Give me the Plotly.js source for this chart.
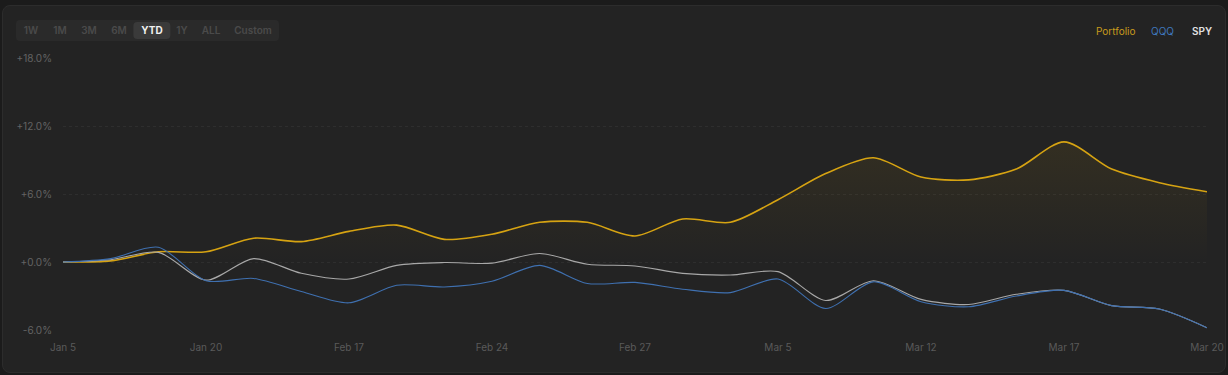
<!DOCTYPE html>
<html><head><meta charset="utf-8">
<script src="https://cdn.plot.ly/plotly-3.0.1.min.js"></script>
<style>
html,body{margin:0;padding:0;background:#1b1b1b;width:1228px;height:375px;overflow:hidden;font-family:Inter,"Noto Sans",sans-serif;}
#card{position:absolute;left:2px;top:5px;width:1222px;height:366px;background:#232323;border:1px solid #2c2c2c;border-radius:8px;}
#chart{position:absolute;left:0;top:0;width:1228px;height:375px;}
#btns{position:absolute;left:16px;top:20px;width:263px;height:21px;background:#2a2a2a;border-radius:4px;}
.b{position:absolute;top:0;height:21px;line-height:21px;font-size:10px;font-weight:600;color:#4a4a4a;transform:translateX(-50%);white-space:nowrap;}
.b.sel{background:#3a3a3a;color:#f0f0f0;font-weight:700;border-radius:4px;top:2px;height:17px;line-height:17px;padding:0 8px;}
.lg{position:absolute;top:25px;font-size:10px;line-height:12px;white-space:nowrap;}
</style></head>
<body>
<div id="card"></div>
<div id="chart"></div>
<div id="btns"></div>
<div id="legend"></div>
<script>
const xIndex = [0,1,2,3,4,5,6,7,8,9,10,11,12,13,14,15,16,17,18,19,20,21,22,23,24];
const tickIdx = [0,3,6,9,12,15,18,21,24];
const tickLabels = ["Jan 5","Jan 20","Feb 17","Feb 24","Feb 27","Mar 5","Mar 12","Mar 17","Mar 20"];
const portfolio = [0,0.1,0.9,0.9,2.1,1.8,2.7,3.25,2.0,2.45,3.5,3.5,2.3,3.8,3.5,5.5,7.8,9.2,7.5,7.25,8.2,10.6,8.2,7.0,6.2];
const qqq = [0,0.3,1.3,-1.65,-1.45,-2.6,-3.6,-2.05,-2.2,-1.7,-0.3,-1.9,-1.8,-2.4,-2.7,-1.5,-4.1,-1.75,-3.5,-3.95,-3.0,-2.5,-3.85,-4.15,-5.8];
const spy = [0,0.2,0.85,-1.6,0.3,-1.0,-1.5,-0.3,-0.05,-0.1,0.75,-0.2,-0.35,-1.0,-1.15,-0.85,-3.4,-1.65,-3.3,-3.75,-2.85,-2.5,-3.85,-4.15,-5.8];
const yTicks = [-6,0,6,12,18];
const yTickText = ["-6.0%","+0.0%","+6.0%","+12.0%","+18.0%"];
const ranges = ["1W","1M","3M","6M","YTD","1Y","ALL","Custom"];
const rangeX = [15,44,73,103,136,166,195,237];
const legendNames = ["Portfolio","QQQ","SPY"];
const legendColors = ["#c89a1c","#3f77bd","#e0e0e0"];
const legendX = [1096,1151,1192];

const btns = document.getElementById('btns');
ranges.forEach((r,i)=>{
  const d=document.createElement('div');
  d.className='b'+(r==='YTD'?' sel':'');
  d.style.left=rangeX[i]+'px';
  d.textContent=r;
  btns.appendChild(d);
});
const lg=document.getElementById('legend');
legendNames.forEach((n,i)=>{
  const d=document.createElement('div');
  d.className='lg';
  d.style.left=legendX[i]+'px';
  d.style.color=legendColors[i];
  if(n==='SPY') d.style.fontWeight='600';
  d.textContent=n;
  lg.appendChild(d);
});

const traces=[
 {x:xIndex,y:portfolio,type:'scatter',mode:'lines',name:'Portfolio',
  line:{color:'#d6a312',width:1.6,shape:'spline',smoothing:0.8},
  fill:'tozeroy',
  fillgradient:{type:'vertical',colorscale:[[0,'rgba(214,163,18,0)'],[1,'rgba(214,163,18,0.09)']]},
  hoverinfo:'skip'},
 {x:xIndex,y:spy,type:'scatter',mode:'lines',name:'SPY',
  line:{color:'#a8a8a8',width:1.1,shape:'spline',smoothing:0.8},hoverinfo:'skip'},
 {x:xIndex,y:qqq,type:'scatter',mode:'lines',name:'QQQ',
  line:{color:'#3f70b0',width:1.1,shape:'spline',smoothing:0.8},hoverinfo:'skip'}
];
const layout={
  width:1228,height:375,
  paper_bgcolor:'rgba(0,0,0,0)',plot_bgcolor:'rgba(0,0,0,0)',
  margin:{l:63,r:21,t:58,b:45},
  showlegend:false,
  font:{family:'Inter, Noto Sans, sans-serif',size:10,color:'#5e5e5e'},
  xaxis:{range:[0,24],tickvals:tickIdx,ticktext:tickLabels,showgrid:false,zeroline:false,
    showline:false,ticks:'',ticklabelstandoff:10,tickfont:{size:10,color:'#5a5a5a'},fixedrange:true},
  yaxis:{range:[-6,18],tickvals:yTicks,ticktext:yTickText,showgrid:true,gridcolor:'#2e2e2e',
    griddash:'3px,3px',gridwidth:1,zeroline:false,showline:false,ticks:'',ticklabelstandoff:10,
    tickfont:{size:10,color:'#636363'},fixedrange:true}
};
Plotly.newPlot('chart',traces,layout,{displayModeBar:false,staticPlot:true});
</script>
</body></html>
